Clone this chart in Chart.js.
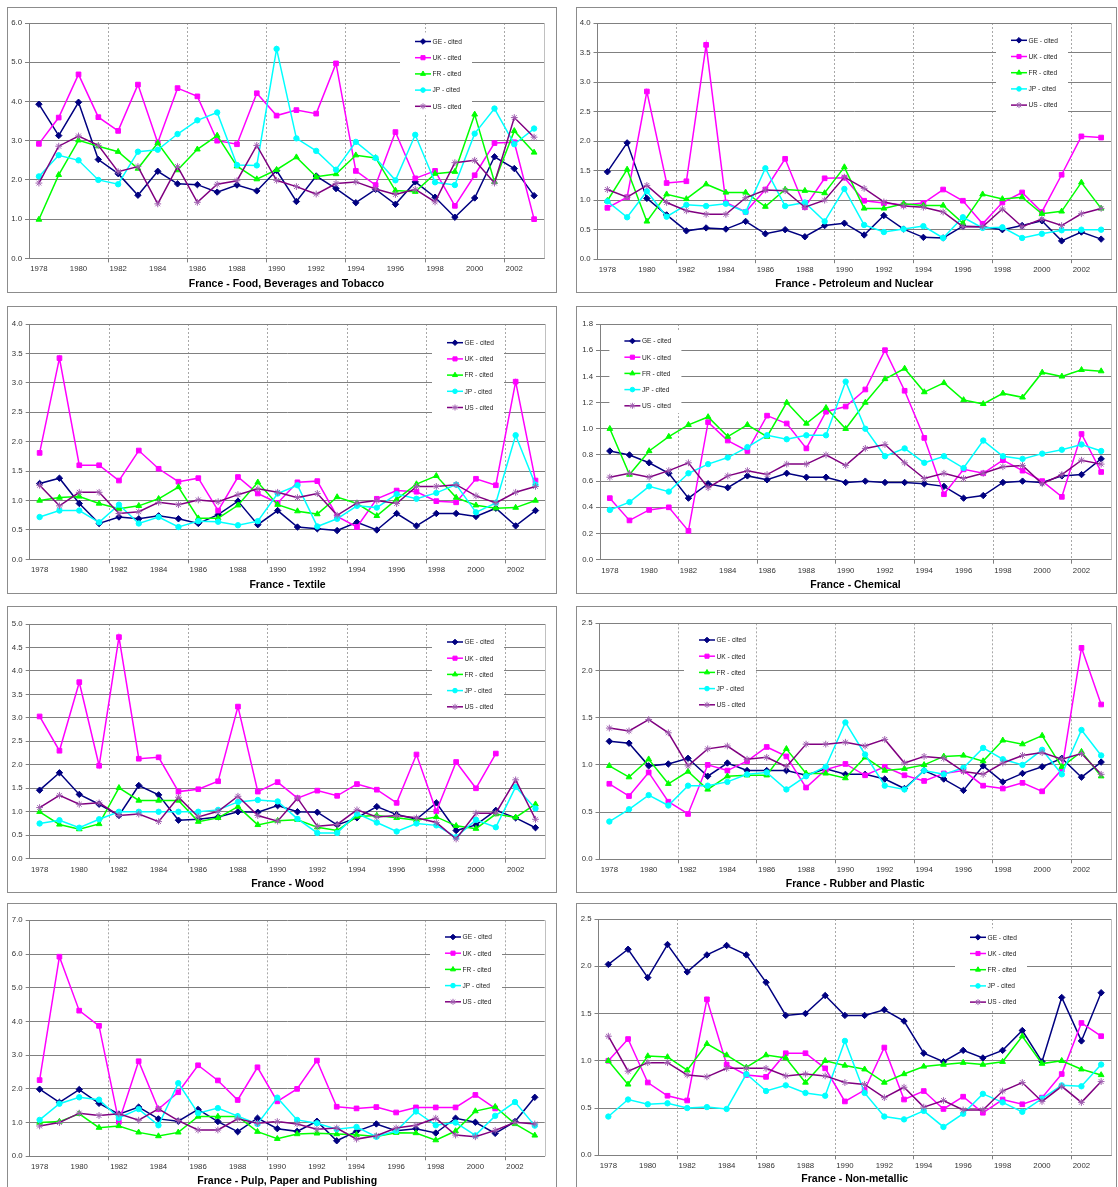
<!DOCTYPE html>
<html>
<head>
<meta charset="utf-8">
<title>France - cited ratios by sector</title>
<script src="https://cdn.jsdelivr.net/npm/chart.js@4/dist/chart.umd.min.js"></script>
<style>
    body {
        margin: 0;
        width: 1118px;
        height: 1187px;
        overflow: hidden;
        position: relative;
        background: #fff;
        font-family: "Liberation Sans", Arial, sans-serif;
    }
    .panel {
        position: absolute;
        box-sizing: border-box;
        border: 1px solid #8c8c8c;
        background: #fff;
    }
    .panel canvas {
        position: absolute;
        left: 0;
        top: 0;
    }
</style>
</head>
<body>

<div class="panel" style="left:7px;top:7px;width:550px;height:286px"><canvas id="food" width="548" height="284"></canvas></div>
<div class="panel" style="left:576px;top:7px;width:541px;height:286px"><canvas id="petro" width="539" height="284"></canvas></div>
<div class="panel" style="left:7px;top:306px;width:550px;height:288px"><canvas id="textile" width="548" height="286"></canvas></div>
<div class="panel" style="left:576px;top:306px;width:541px;height:288px"><canvas id="chemical" width="539" height="286"></canvas></div>
<div class="panel" style="left:7px;top:606px;width:550px;height:287px"><canvas id="wood" width="548" height="285"></canvas></div>
<div class="panel" style="left:576px;top:606px;width:541px;height:287px"><canvas id="rubber" width="539" height="285"></canvas></div>
<div class="panel" style="left:7px;top:903px;width:550px;height:289px"><canvas id="pulp" width="548" height="287"></canvas></div>
<div class="panel" style="left:576px;top:903px;width:541px;height:289px"><canvas id="nonmetal" width="539" height="287"></canvas></div>

<script>
// Years on the category axis
const years = ['1978', '1979', '1980', '1981', '1982', '1983', '1984', '1985', '1986',
    '1987', '1988', '1989', '1990', '1991', '1992', '1993', '1994', '1995', '1996',
    '1997', '1998', '1999', '2000', '2001', '2002', '2003'];

const seriesNames = ['GE - cited', 'UK - cited', 'FR - cited', 'JP - cited', 'US - cited'];

// Food, Beverages and Tobacco
const foodGE = [3.93, 3.13, 3.98, 2.52, 2.16, 1.61, 2.22, 1.90, 1.88, 1.69, 1.87, 1.72, 2.24, 1.45, 2.10, 1.78, 1.42, 1.76, 1.38, 1.95, 1.56, 1.05, 1.54, 2.59, 2.29, 1.60];
const foodUK = [2.92, 3.59, 4.69, 3.60, 3.25, 4.43, 2.95, 4.34, 4.13, 3.00, 2.91, 4.21, 3.64, 3.78, 3.69, 4.97, 2.23, 1.87, 3.22, 2.04, 2.23, 1.34, 2.12, 2.94, 2.96, 1.00];
const foodFR = [0.99, 2.13, 3.01, 2.86, 2.72, 2.29, 2.94, 2.25, 2.78, 3.13, 2.35, 2.02, 2.26, 2.58, 2.08, 2.15, 2.63, 2.56, 1.73, 1.70, 2.16, 2.21, 3.67, 1.95, 3.25, 2.70];
const foodJP = [2.09, 2.63, 2.50, 2.00, 1.89, 2.72, 2.77, 3.17, 3.52, 3.72, 2.38, 2.37, 5.34, 3.06, 2.74, 2.26, 2.97, 2.56, 1.99, 3.15, 1.94, 1.87, 3.18, 3.82, 2.91, 3.31];
const foodUS = [1.92, 2.86, 3.12, 2.88, 2.21, 2.34, 1.39, 2.34, 1.43, 1.89, 1.98, 2.88, 1.99, 1.83, 1.64, 1.91, 1.95, 1.77, 1.63, 1.76, 1.44, 2.44, 2.50, 1.92, 3.59, 3.09];

// Petroleum and Nuclear
const petroGE = [1.48, 1.97, 1.03, 0.75, 0.48, 0.53, 0.51, 0.64, 0.43, 0.50, 0.38, 0.57, 0.61, 0.41, 0.74, 0.51, 0.37, 0.36, 0.56, 0.55, 0.50, 0.57, 0.65, 0.31, 0.46, 0.34];
const petroUK = [0.87, 1.05, 2.84, 1.29, 1.32, 3.63, 0.96, 0.80, 1.18, 1.70, 0.88, 1.37, 1.38, 0.99, 0.95, 0.92, 0.95, 1.18, 0.99, 0.60, 0.96, 1.13, 0.80, 1.43, 2.08, 2.06];
const petroFR = [0.99, 1.52, 0.64, 1.10, 1.02, 1.27, 1.13, 1.13, 0.89, 1.18, 1.16, 1.12, 1.56, 0.86, 0.86, 0.94, 0.91, 0.91, 0.61, 1.10, 1.02, 1.05, 0.77, 0.81, 1.30, 0.86];
const petroJP = [0.98, 0.71, 1.15, 0.72, 0.92, 0.90, 0.94, 0.80, 1.54, 0.90, 0.96, 0.64, 1.19, 0.58, 0.46, 0.51, 0.56, 0.36, 0.71, 0.53, 0.54, 0.36, 0.43, 0.49, 0.50, 0.50];
const petroUS = [1.18, 1.05, 1.25, 0.96, 0.82, 0.76, 0.76, 1.04, 1.17, 1.16, 0.88, 1.00, 1.39, 1.20, 0.97, 0.90, 0.88, 0.80, 0.55, 0.55, 0.85, 0.55, 0.68, 0.57, 0.77, 0.86];

// Textile
const textileGE = [1.29, 1.38, 0.95, 0.61, 0.72, 0.69, 0.74, 0.69, 0.61, 0.76, 0.99, 0.59, 0.83, 0.55, 0.52, 0.49, 0.63, 0.50, 0.78, 0.57, 0.78, 0.78, 0.73, 0.87, 0.57, 0.83];
const textileUK = [1.81, 3.42, 1.60, 1.60, 1.34, 1.85, 1.54, 1.32, 1.38, 0.83, 1.40, 1.12, 0.96, 1.31, 1.33, 0.73, 0.55, 1.03, 1.17, 1.15, 0.99, 0.97, 1.37, 1.26, 3.02, 1.34];
const textileFR = [1.00, 1.05, 1.07, 0.95, 0.86, 0.91, 1.03, 1.23, 0.70, 0.70, 0.92, 1.31, 0.93, 0.82, 0.77, 1.06, 0.95, 0.74, 1.02, 1.28, 1.42, 1.05, 0.92, 0.87, 0.88, 1.00];
const textileJP = [0.72, 0.83, 0.83, 0.63, 0.93, 0.61, 0.72, 0.55, 0.65, 0.64, 0.58, 0.65, 1.12, 1.26, 0.56, 0.69, 0.91, 0.88, 1.11, 1.03, 1.13, 1.27, 0.80, 0.96, 2.11, 1.27];
const textileUS = [1.26, 0.91, 1.14, 1.14, 0.78, 0.81, 0.97, 0.93, 1.01, 0.98, 1.10, 1.20, 1.14, 1.05, 1.12, 0.75, 0.96, 1.00, 0.95, 1.24, 1.24, 1.27, 1.08, 0.96, 1.14, 1.24];

// Chemical
const chemicalGE = [0.83, 0.80, 0.74, 0.66, 0.47, 0.58, 0.55, 0.64, 0.61, 0.66, 0.63, 0.63, 0.59, 0.60, 0.59, 0.59, 0.58, 0.56, 0.47, 0.49, 0.59, 0.60, 0.59, 0.64, 0.65, 0.77];
const chemicalUK = [0.47, 0.30, 0.38, 0.40, 0.22, 1.05, 0.91, 0.83, 1.10, 1.04, 0.85, 1.13, 1.17, 1.30, 1.60, 1.29, 0.93, 0.50, 0.69, 0.66, 0.76, 0.68, 0.60, 0.48, 0.96, 0.67];
const chemicalFR = [1.00, 0.65, 0.83, 0.94, 1.03, 1.09, 0.94, 1.03, 0.94, 1.20, 1.04, 1.16, 1.00, 1.20, 1.38, 1.46, 1.28, 1.35, 1.22, 1.19, 1.27, 1.24, 1.43, 1.40, 1.45, 1.44];
const chemicalJP = [0.38, 0.44, 0.56, 0.52, 0.66, 0.73, 0.78, 0.86, 0.95, 0.92, 0.95, 0.95, 1.36, 1.00, 0.79, 0.85, 0.74, 0.79, 0.70, 0.91, 0.79, 0.77, 0.81, 0.84, 0.88, 0.83];
const chemicalUS = [0.63, 0.66, 0.63, 0.68, 0.74, 0.55, 0.64, 0.68, 0.65, 0.73, 0.73, 0.80, 0.72, 0.85, 0.88, 0.74, 0.62, 0.66, 0.62, 0.66, 0.71, 0.72, 0.58, 0.65, 0.76, 0.73];

// Wood (UK has no values for the last two years)
const woodGE = [1.46, 1.83, 1.37, 1.16, 0.92, 1.56, 1.36, 0.82, 0.84, 0.89, 1.00, 0.99, 1.13, 1.00, 0.99, 0.72, 0.87, 1.11, 0.94, 0.84, 1.19, 0.60, 0.72, 1.03, 0.87, 0.66];
const woodUK = [3.03, 2.30, 3.76, 1.98, 4.72, 2.13, 2.16, 1.43, 1.48, 1.65, 3.24, 1.43, 1.63, 1.29, 1.45, 1.34, 1.59, 1.47, 1.19, 2.22, 1.01, 2.06, 1.50, 2.24, null, null];
const woodFR = [1.00, 0.73, 0.63, 0.74, 1.51, 1.24, 1.24, 1.24, 0.79, 0.87, 1.11, 0.72, 0.81, 0.83, 0.67, 0.60, 0.90, 0.92, 0.87, 0.82, 0.89, 0.70, 0.64, 0.95, 0.88, 1.16];
const woodJP = [0.75, 0.82, 0.66, 0.84, 1.00, 1.00, 1.00, 1.00, 1.00, 1.04, 1.21, 1.25, 1.22, 0.85, 0.55, 0.55, 0.96, 0.77, 0.58, 0.75, 0.71, 0.46, 0.83, 0.67, 1.53, 1.07];
const woodUS = [1.09, 1.35, 1.16, 1.19, 0.92, 0.95, 0.79, 1.31, 0.89, 1.01, 1.33, 0.92, 0.80, 1.29, 0.69, 0.73, 1.04, 0.89, 0.92, 0.87, 0.77, 0.42, 0.97, 0.97, 1.68, 0.84];

// Rubber and Plastic
const rubberGE = [1.25, 1.23, 0.99, 1.01, 1.07, 0.88, 1.02, 0.94, 0.94, 0.94, 0.89, 0.96, 0.90, 0.90, 0.85, 0.75, 0.94, 0.85, 0.73, 0.99, 0.82, 0.91, 0.98, 1.07, 0.87, 1.03];
const rubberUK = [0.80, 0.67, 0.92, 0.61, 0.48, 1.00, 0.94, 1.04, 1.19, 1.09, 0.76, 0.95, 1.01, 0.89, 0.98, 0.89, 0.83, 0.91, 0.94, 0.78, 0.75, 0.81, 0.72, 0.95, 2.24, 1.64];
const rubberFR = [0.99, 0.87, 1.06, 0.80, 0.93, 0.74, 0.88, 0.89, 0.89, 1.17, 0.91, 0.91, 0.86, 1.08, 0.94, 0.96, 1.00, 1.09, 1.10, 1.04, 1.26, 1.22, 1.31, 0.98, 1.14, 0.88];
const rubberJP = [0.40, 0.53, 0.68, 0.57, 0.78, 0.78, 0.82, 0.90, 0.92, 0.74, 0.88, 0.98, 1.45, 1.11, 0.78, 0.74, 0.94, 0.90, 0.97, 1.18, 1.06, 1.00, 1.16, 0.90, 1.37, 1.10];
const rubberUS = [1.39, 1.36, 1.48, 1.34, 0.99, 1.17, 1.20, 1.06, 1.08, 0.98, 1.22, 1.22, 1.24, 1.20, 1.27, 1.02, 1.09, 1.07, 0.93, 0.90, 1.02, 1.10, 1.13, 1.06, 1.12, 0.90];

// Pulp, Paper and Publishing (UK has no values for the last two years)
const pulpGE = [1.99, 1.60, 1.98, 1.57, 1.25, 1.46, 1.11, 1.04, 1.39, 1.03, 0.73, 1.13, 0.82, 0.74, 1.04, 0.46, 0.74, 0.96, 0.76, 0.82, 0.69, 1.13, 1.01, 0.68, 1.03, 1.75];
const pulpUK = [2.26, 5.92, 4.32, 3.87, 1.02, 2.82, 1.40, 1.90, 2.70, 2.25, 1.67, 2.64, 1.63, 2.00, 2.84, 1.47, 1.42, 1.46, 1.30, 1.45, 1.45, 1.45, 1.82, 1.42, null, null];
const pulpFR = [1.00, 1.03, 1.26, 0.85, 0.90, 0.71, 0.60, 0.71, 1.18, 1.18, 1.18, 0.73, 0.52, 0.66, 0.68, 0.66, 0.64, 0.59, 0.70, 0.69, 0.48, 0.75, 1.34, 1.47, 0.96, 0.62];
const pulpJP = [1.08, 1.56, 1.75, 1.68, 1.14, 1.40, 0.92, 2.17, 1.28, 1.43, 1.19, 0.96, 1.74, 1.08, 0.98, 0.80, 0.87, 0.58, 0.75, 1.33, 0.92, 1.00, 0.62, 1.20, 1.61, 0.91];
const pulpUS = [0.90, 1.00, 1.28, 1.21, 1.26, 1.07, 1.41, 1.06, 0.78, 0.78, 1.11, 0.98, 1.03, 0.96, 0.80, 0.84, 0.51, 0.61, 0.84, 0.92, 1.13, 0.63, 0.58, 0.77, 1.01, 0.96];

// Non-metallic
const nonmetalGE = [2.02, 2.18, 1.88, 2.23, 1.94, 2.12, 2.22, 2.12, 1.83, 1.48, 1.50, 1.69, 1.48, 1.48, 1.54, 1.42, 1.08, 0.99, 1.11, 1.03, 1.11, 1.32, 0.99, 1.67, 1.21, 1.72];
const nonmetalUK = [1.00, 1.23, 0.77, 0.63, 0.58, 1.65, 0.96, 0.85, 0.83, 1.08, 1.08, 0.92, 0.57, 0.69, 1.14, 0.59, 0.68, 0.49, 0.62, 0.45, 0.59, 0.54, 0.61, 0.86, 1.40, 1.26];
const nonmetalFR = [1.00, 0.75, 1.05, 1.04, 0.90, 1.18, 1.06, 0.93, 1.06, 1.03, 0.77, 1.00, 0.95, 0.91, 0.77, 0.86, 0.94, 0.96, 0.98, 0.96, 0.99, 1.26, 0.97, 1.00, 0.91, 0.85];
const nonmetalJP = [0.41, 0.59, 0.54, 0.55, 0.50, 0.51, 0.49, 0.86, 0.68, 0.74, 0.66, 0.63, 1.21, 0.66, 0.41, 0.38, 0.47, 0.30, 0.44, 0.65, 0.56, 0.46, 0.60, 0.74, 0.73, 0.96];
const nonmetalUS = [1.26, 0.89, 0.98, 0.98, 0.85, 0.83, 0.92, 0.92, 0.92, 0.84, 0.86, 0.84, 0.77, 0.75, 0.61, 0.72, 0.51, 0.58, 0.48, 0.48, 0.68, 0.77, 0.57, 0.73, 0.56, 0.78];

// Series look: Excel-like colours and marker shapes (the star marker is drawn thin and light)
const STYLE = [
    { color: '#000080', point: '#000080', marker: 'rectRot', radius: 3.2 },
    { color: '#ff00ff', point: '#ff00ff', marker: 'rect', radius: 3.3 },
    { color: '#00ff00', point: '#00ff00', marker: 'triangle', radius: 3.3 },
    { color: '#00ffff', point: '#00ffff', marker: 'circle', radius: 2.7 },
    { color: '#800080', point: '#a060b0', marker: 'star', radius: 3.4 }
];

const FONT = '"Liberation Sans", Arial, sans-serif';
const GRID = '#808080';

// per panel: axis range, legend spot (canvas px) and plot-area insets
const panels = [
    { id: 'food', title: 'France - Food, Beverages and Tobacco', yMax: 6, step: 1,
      series: [foodGE, foodUK, foodFR, foodJP, foodUS],
      legend: [407, 33.5], axisW: 21, padTop: 15, padRight: 12, padBottom: 2, axisH: 19 },
    { id: 'petro', title: 'France - Petroleum and Nuclear', yMax: 4, step: 0.5,
      series: [petroGE, petroUK, petroFR, petroJP, petroUS],
      legend: [434, 32.3], axisW: 20.5, padTop: 15, padRight: 3, padBottom: 1.5, axisH: 18.7 },
    { id: 'textile', title: 'France - Textile', yMax: 4, step: 0.5,
      series: [textileGE, textileUK, textileFR, textileJP, textileUS],
      legend: [439, 35.7], axisW: 21.7, padTop: 17, padRight: 10.6, padBottom: 2, axisH: 19 },
    { id: 'chemical', title: 'France - Chemical', yMax: 1.8, step: 0.2,
      series: [chemicalGE, chemicalUK, chemicalFR, chemicalJP, chemicalUS],
      legend: [47.4, 34], axisW: 23, padTop: 17, padRight: 1.5, padBottom: 2, axisH: 18.7 },
    { id: 'wood', title: 'France - Wood', yMax: 5, step: 0.5,
      series: [woodGE, woodUK, woodFR, woodJP, woodUS],
      legend: [439, 35], axisW: 21.7, padTop: 17, padRight: 10.6, padBottom: 1.7, axisH: 19 },
    { id: 'rubber', title: 'France - Rubber and Plastic', yMax: 2.5, step: 0.5,
      series: [rubberGE, rubberUK, rubberFR, rubberJP, rubberUS],
      legend: [122, 33], axisW: 22.5, padTop: 16.3, padRight: 2, padBottom: 1.7, axisH: 18.4 },
    { id: 'pulp', title: 'France - Pulp, Paper and Publishing', yMax: 7, step: 1,
      series: [pulpGE, pulpUK, pulpFR, pulpJP, pulpUS],
      legend: [437, 33], axisW: 21.7, padTop: 16.3, padRight: 11.3, padBottom: 3.7, axisH: 18.4 },
    { id: 'nonmetal', title: 'France - Non-metallic', yMax: 2.5, step: 0.5,
      series: [nonmetalGE, nonmetalUK, nonmetalFR, nonmetalJP, nonmetalUS],
      legend: [393, 33.3], axisW: 21.5, padTop: 15, padRight: 4, padBottom: 5.4, axisH: 17.7 }
];

// legend box inside the plot + light frame on the right edge
const plotExtras = {
    id: 'plotExtras',
    beforeDatasetsDraw(chart, args, opts) {
        const ctx = chart.ctx;
        const area = chart.chartArea;
        ctx.save();

        ctx.strokeStyle = '#c0c0c0';
        ctx.lineWidth = 1;
        ctx.beginPath();
        ctx.moveTo(Math.round(area.right) + 0.5, area.top);
        ctx.lineTo(Math.round(area.right) + 0.5, area.bottom);
        ctx.stroke();

        const x0 = opts.at[0];
        const y0 = opts.at[1];
        ctx.fillStyle = '#ffffff';
        ctx.fillRect(x0 - 15, y0 - 9, 72, 81);

        chart.data.datasets.forEach((ds, i) => {
            const y = y0 + i * 16.2;
            ctx.strokeStyle = ds.borderColor;
            ctx.lineWidth = 1.5;
            ctx.beginPath();
            ctx.moveTo(x0, y);
            ctx.lineTo(x0 + 16, y);
            ctx.stroke();

            ctx.strokeStyle = ds.pointBorderColor;
            ctx.fillStyle = ds.pointBackgroundColor;
            ctx.lineWidth = 1;
            Chart.helpers.drawPoint(ctx, {
                pointStyle: ds.pointStyle,
                radius: ds.pointRadius - 0.4,
                borderWidth: 1,
                rotation: 0
            }, x0 + 8, y);

            ctx.fillStyle = '#222';
            ctx.font = '6.6px ' + FONT;
            ctx.textBaseline = 'middle';
            ctx.textAlign = 'left';
            ctx.fillText(ds.label, x0 + 17.5, y + 0.5);
        });
        ctx.restore();
    }
};

// dotted vertical lines every four years, between 1981/1982, 1985/1986, ...
function yearGrid(color) {
    return (ctx) => (ctx.index > 0 && ctx.index < years.length && ctx.index % 4 === 0) ? color : 'rgba(0,0,0,0)';
}

function buildChart(p) {
    const datasets = p.series.map((values, i) => ({
        label: seriesNames[i],
        data: values,
        borderColor: STYLE[i].color,
        backgroundColor: STYLE[i].color,
        pointBackgroundColor: STYLE[i].point,
        pointBorderColor: STYLE[i].point,
        pointStyle: STYLE[i].marker,
        pointRadius: STYLE[i].radius,
        pointBorderWidth: 1,
        borderWidth: 1.5,
        tension: 0,
        fill: false,
        spanGaps: false,
        order: 5 - i
    }));

    return new Chart(document.getElementById(p.id), {
        type: 'line',
        data: { labels: years, datasets: datasets },
        options: {
            responsive: false,
            animation: false,
            events: [],
            layout: {
                padding: { left: 0, top: p.padTop, right: p.padRight, bottom: p.padBottom }
            },
            plugins: {
                legend: { display: false },
                tooltip: { enabled: false },
                title: {
                    display: true,
                    position: 'bottom',
                    fullSize: false,
                    text: p.title,
                    color: '#000',
                    padding: 0,
                    font: { family: FONT, size: 10.5, weight: 'bold', lineHeight: 1.2 }
                },
                plotExtras: { at: p.legend }
            },
            scales: {
                x: {
                    type: 'category',
                    offset: true,
                    afterFit: (scale) => { scale.height = p.axisH; },
                    grid: {
                        offset: true,
                        drawOnChartArea: true,
                        color: yearGrid('#a8a8a8'),
                        tickColor: yearGrid(GRID),
                        tickLength: 4,
                        lineWidth: 1
                    },
                    border: { display: true, color: GRID, width: 1, dash: [2, 2] },
                    ticks: {
                        autoSkip: false,
                        maxRotation: 0,
                        padding: 2,
                        color: '#333',
                        font: { family: FONT, size: 7.8 },
                        callback: (value, index) => (index % 2 === 0 ? years[index] : '')
                    }
                },
                y: {
                    min: 0,
                    max: p.yMax,
                    afterFit: (scale) => { scale.width = p.axisW; },
                    grid: { color: GRID, tickColor: GRID, tickLength: 4, lineWidth: 1 },
                    border: { display: true, color: GRID, width: 1 },
                    ticks: {
                        stepSize: p.step,
                        padding: 3,
                        color: '#333',
                        font: { family: FONT, size: 7.8 },
                        callback: (value) => value.toFixed(1)
                    }
                }
            }
        },
        plugins: [plotExtras]
    });
}

panels.forEach(buildChart);
</script>
</body>
</html>
